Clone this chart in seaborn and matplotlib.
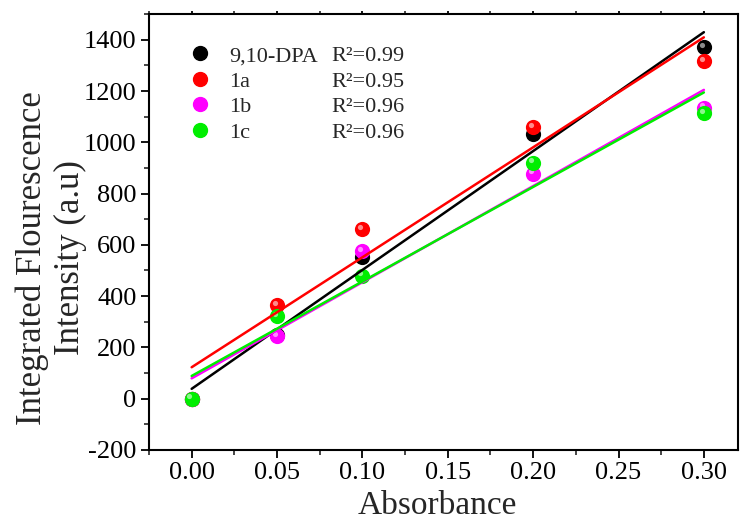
import numpy as np
import pandas as pd
import seaborn as sns
import matplotlib.pyplot as plt
from matplotlib.lines import Line2D
from matplotlib.ticker import MultipleLocator
from matplotlib.transforms import offset_copy

# values
absorbance = [0.00, 0.05, 0.10, 0.20, 0.30]
dpa = [0, 250, 551, 1034, 1371]
c1a = [0, 366, 660, 1059, 1316]
c1b = [0, 245, 576, 878, 1135]
c1c = [0, 323, 480, 921, 1115]

names = ['9,10-DPA', '1a', '1b', '1c']
r2 = ['0.99', '0.95', '0.96', '0.96']
colors = ['black', '#ff0000', '#ff00ff', '#00ee00']

rows = []
for name, vals in zip(names, [dpa, c1a, c1b, c1c]):
    for x, y in zip(absorbance, vals):
        rows.append((name, x, y))
df = pd.DataFrame(rows, columns=['sample', 'absorbance', 'intensity'])

sns.set_style('ticks')
plt.rcParams['font.family'] = ['Liberation Serif', 'DejaVu Serif']
plt.rcParams['axes.unicode_minus'] = False

fig, ax = plt.subplots(figsize=(7.43, 5.22), dpi=100)
fig.subplots_adjust(left=0.2005, right=0.9933, bottom=0.138, top=0.973)

# glossy balls: a coloured dot plus a small light spot up-left
shine = offset_copy(ax.transData, fig=fig, x=-1.6, y=1.6, units='points')
for i, (name, color) in enumerate(zip(names, colors)):
    sub = df[df['sample'] == name]
    ax.scatter(sub['absorbance'], sub['intensity'], s=120, color=color,
               linewidths=0, zorder=3 + i * 0.1)
    ax.scatter(sub['absorbance'], sub['intensity'], s=14, color='white',
               alpha=0.55, linewidths=0, zorder=3.05 + i * 0.1, transform=shine)

for name, color in zip(names, colors):
    sns.regplot(data=df[df['sample'] == name], x='absorbance', y='intensity',
                scatter=False, ci=None, color=color,
                line_kws={'lw': 1.8, 'zorder': 4}, ax=ax)

handles = [Line2D([], [], ls='none', marker='o', ms=10, mfc=c, mec=c) for c in colors]
blanks = [Line2D([], [], ls='none') for _ in names]
labels = names + ['R²=' + v for v in r2]
ax.legend(handles + blanks, labels, ncol=2, loc='upper left',
          bbox_to_anchor=(0.061, 0.948), frameon=False, fontsize=16,
          handlelength=0.6, handletextpad=1.0, columnspacing=-1.0,
          labelspacing=0.22, borderaxespad=0)

ax.set_xlim(-0.025, 0.32)
ax.set_ylim(-200, 1500)
ax.xaxis.set_major_locator(MultipleLocator(0.05))
ax.xaxis.set_minor_locator(MultipleLocator(0.025))
ax.xaxis.set_major_formatter('{x:.2f}')
ax.yaxis.set_major_locator(MultipleLocator(200))
ax.yaxis.set_minor_locator(MultipleLocator(100))
ax.tick_params(which='major', direction='out', length=6, width=1.3,
               labelsize=19, pad=3, colors='black')
ax.tick_params(which='minor', direction='out', length=3.5, width=1.2)
ax.tick_params(axis='x', which='major', top=True)
ax.tick_params(axis='x', which='minor', top=True)
for sp in ax.spines.values():
    sp.set_linewidth(1.5)
    sp.set_color('black')
# top ticks are only tiny stubs in the original
for t in ax.xaxis.get_major_ticks() + ax.xaxis.get_minor_ticks():
    t.tick2line.set_markersize(2)

ax.set_xlabel('Absorbance', fontsize=24)
ax.xaxis.label.set_va('baseline')
ax.xaxis.set_label_coords(0.49, -0.147)
ax.set_ylabel('')
fig.text(51 / 743, 1 - 258 / 522, 'Integrated Flourescence\nIntensity (a.u)',
         rotation=90, ha='center', va='center', fontsize=25, linespacing=1.18)

fig.savefig('out.png', dpi=100)
